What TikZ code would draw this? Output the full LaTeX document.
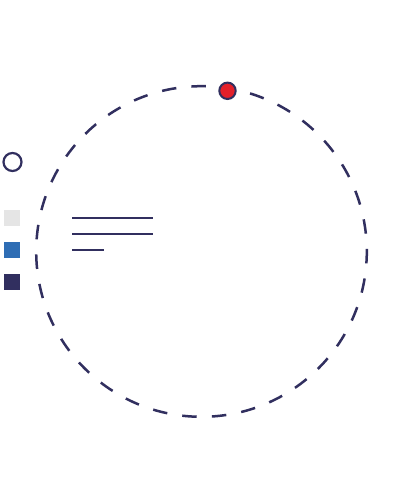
\documentclass[tikz,border=0pt]{standalone}
\definecolor{navy}{HTML}{312F5F}
\definecolor{legblue}{HTML}{2E6DB4}
\definecolor{leggray}{HTML}{E5E5E5}
\definecolor{dotred}{HTML}{E3202A}
\begin{document}
\begin{tikzpicture}[x=1pt,y=1pt,
  ring/.style={draw=navy,line width=2.5pt,dash pattern=on 14.5pt off 15.175pt,dash phase=11.8pt},
  bar/.style={draw=navy,line width=2.2pt},
  swatch/.style={minimum size=16pt,inner sep=0pt,outer sep=0pt}]
\useasboundingbox (0,0) rectangle (400,500);
\fill[white] (0,0) rectangle (400,500);
% big dashed circle
\coordinate (c) at (201.5,248.5);
\draw[ring] (c) circle[radius=165.3];
% red dot
\node[circle,draw=navy,fill=dotred,line width=2pt,minimum size=16.4pt,inner sep=0pt] (dot) at (227.5,409.2) {};
% small open circle
\node[circle,draw=navy,line width=2.2pt,minimum size=18pt,inner sep=0pt] (oc) at (12.5,338) {};
% legend squares
\node[swatch,fill=leggray] (s1) at (12.3,282) {};
\node[swatch,fill=legblue] (s2) at (12.3,250) {};
\node[swatch,fill=navy] (s3) at (12.3,218) {};
% text lines
\coordinate (l1a) at (72,281.7); \coordinate (l1b) at (153.3,281.7);
\coordinate (l2a) at (72,265.7); \coordinate (l2b) at (153.3,265.7);
\coordinate (l3a) at (72,249.7); \coordinate (l3b) at (103.7,249.7);
\draw[bar] (l1a) -- (l1b);
\draw[bar] (l2a) -- (l2b);
\draw[bar] (l3a) -- (l3b);
\end{tikzpicture}
\end{document}
